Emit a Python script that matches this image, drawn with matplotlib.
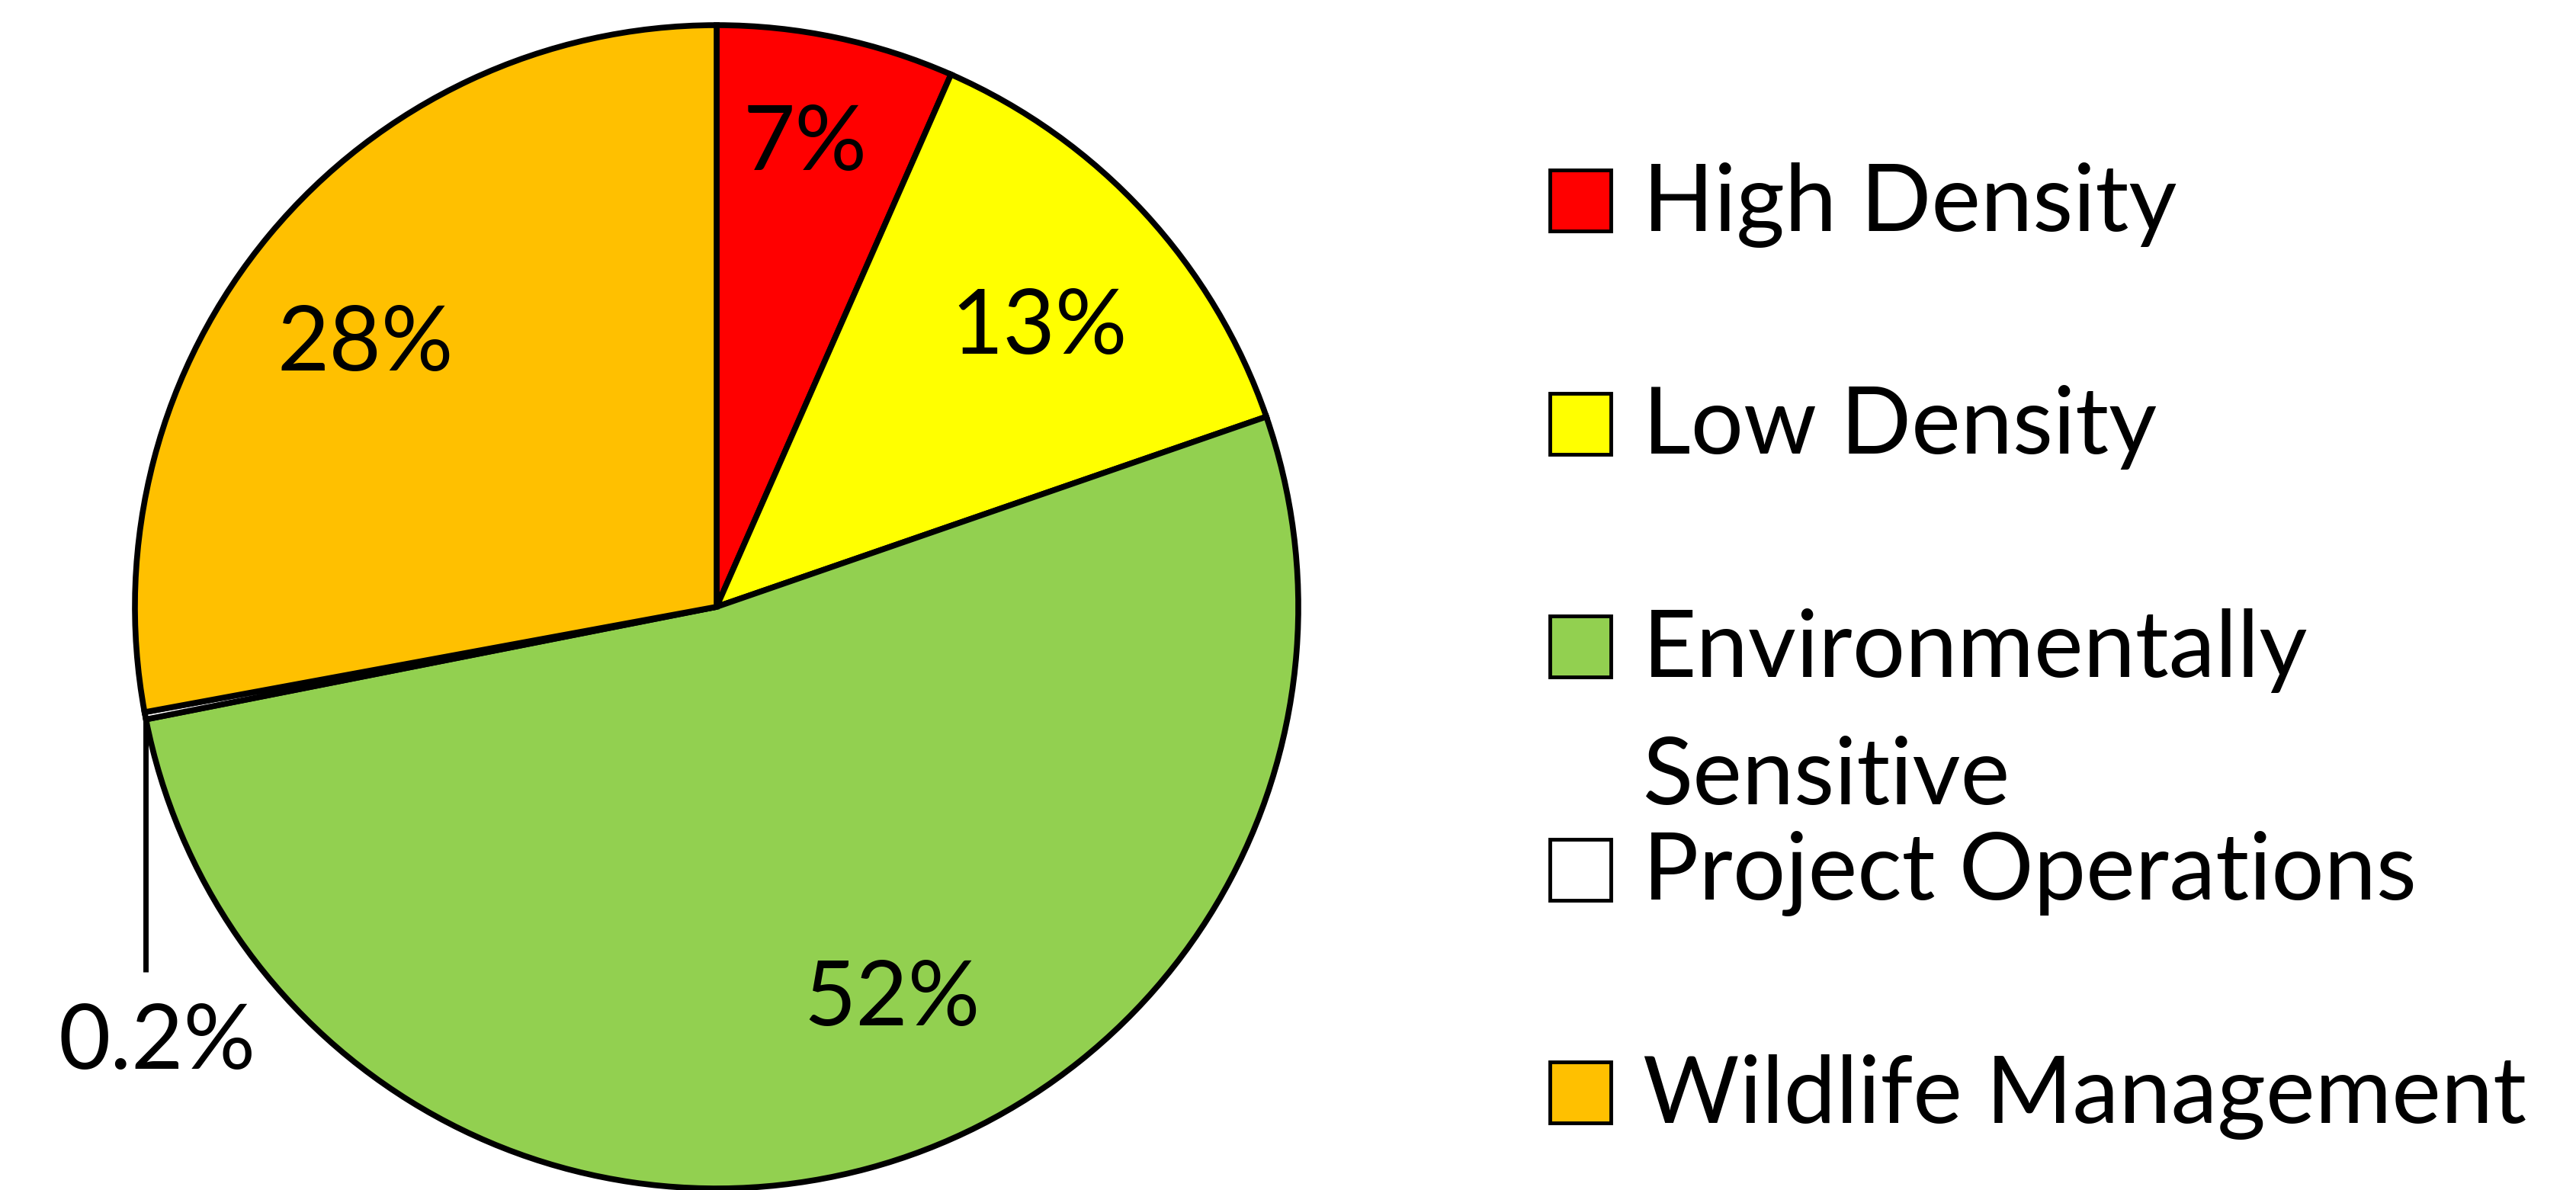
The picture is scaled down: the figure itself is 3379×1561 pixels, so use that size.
import matplotlib
matplotlib.use('Agg')
import matplotlib.pyplot as plt
from matplotlib.patches import Rectangle
import numpy as np

# data (percent of total area)
categories = ['High Density', 'Low Density', 'Environmentally\nSensitive',
              'Project Operations', 'Wildlife Management']
shares = [6.6, 13.1, 52.2, 0.2, 27.9]
colors = ['#FF0000', '#FFFF00', '#92D050', '#FFFFFF', '#FFC000']

# label placement (radius as fraction, extra turn in degrees)
label_dist = [0.82, 0.74, 0.73, None, 0.76]
label_turn = [1.2, -1.2, 9.3, 0.0, 2.4]

W, H, DPI = 3380, 1561, 100
plt.rcParams['font.family'] = ['Lato', 'DejaVu Sans']
LABEL_FS = 85
LEGEND_FS = 88


def pct_label(v):
    return f'{v:.0f}%' if v >= 1 else f'{v:.1f}%'


fig = plt.figure(figsize=(W / DPI, H / DPI), dpi=DPI)
fig.patch.set_facecolor('white')

# pie axes: square box in pixels
cx, cy, r = 940, 796, 763
ax = fig.add_axes([(cx - r) / W, (H - cy - r) / H, 2 * r / W, 2 * r / H])
wedges, _ = ax.pie(shares, colors=colors, startangle=90, counterclock=False,
                   wedgeprops=dict(edgecolor='black', linewidth=5.5))
ax.set_xlim(-1, 1)
ax.set_ylim(-1, 1)
ax.axis('off')
for w in wedges:
    w.set_clip_on(False)

cap = LABEL_FS * DPI / 72 * 0.7165 / r  # cap height in data units
for i, w in enumerate(wedges):
    mid = np.deg2rad((w.theta1 + w.theta2) / 2 + label_turn[i])
    txt = pct_label(shares[i])
    if label_dist[i] is None:
        # tiny slice: leader line straight down from the rim
        x0, y0 = np.cos(mid), np.sin(mid)
        ax.plot([x0, x0], [y0, -0.628], color='black', lw=5, clip_on=False,
                solid_capstyle='butt')
        ax.text(x0 + 0.02, -0.739 - cap / 2, txt, fontsize=LABEL_FS,
                ha='center', va='baseline', color='black')
        continue
    d = label_dist[i]
    ax.text(d * np.cos(mid), d * np.sin(mid) - cap / 2, txt, fontsize=LABEL_FS,
            ha='center', va='baseline', color='black')

# legend drawn in pixel coordinates
lg = fig.add_axes([0, 0, 1, 1])
lg.set_xlim(0, W)
lg.set_ylim(H, 0)
lg.axis('off')
lg.set_zorder(-1)

row_cap_center = 259 + 292.5 * np.arange(len(categories))
line_gap = 167
lcap = LEGEND_FS * DPI / 72 * 0.7165
for i, name in enumerate(categories):
    yc = row_cap_center[i]
    lg.add_patch(Rectangle((2033, yc + 4 - 40), 80, 80, facecolor=colors[i],
                           edgecolor='black', linewidth=3.5))
    for k, line in enumerate(name.split('\n')):
        lg.text(2155, yc + lcap / 2 + k * line_gap, line, fontsize=LEGEND_FS,
                ha='left', va='baseline', color='black')

fig.savefig('out.png', dpi=DPI, facecolor='white')
